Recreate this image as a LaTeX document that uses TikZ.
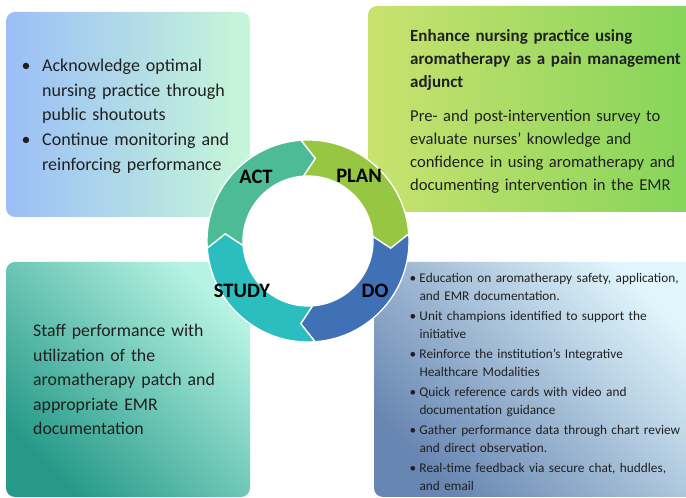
\documentclass[tikz,border=0pt]{standalone}
\usepackage{fontspec}
\setmainfont{Carlito}
\definecolor{textc}{RGB}{32,32,32}
\definecolor{actL}{RGB}{155,190,247}
\definecolor{actR}{RGB}{199,247,216}
\definecolor{planL}{RGB}{201,226,111}
\definecolor{planR}{RGB}{132,212,90}
\definecolor{studyBL}{RGB}{38,153,136}
\definecolor{studyTR}{RGB}{182,243,227}
\definecolor{doBL}{RGB}{104,134,178}
\definecolor{doTR}{RGB}{225,246,252}
\definecolor{actC}{RGB}{77,187,150}
\definecolor{planC}{RGB}{150,198,66}
\definecolor{doC}{RGB}{64,113,183}
\definecolor{studyC}{RGB}{44,190,190}
\newcommand\bitem[3]{\makebox[#1][l]{\textbullet}\parbox[t]{#2}{\strut #3\strut}\par}
\begin{document}
\begin{tikzpicture}[x=1pt,y=1pt,
  panel/.style={rounded corners=9pt},
  txt/.style={anchor=north west, inner sep=0pt, align=left, text=textc},
  seg/.style={draw=white, line width=1.3pt, line join=miter},
  lbl/.style={font=\fontsize{20.5}{24}\selectfont\bfseries, text=black, inner sep=0pt}]
\useasboundingbox (0,0) rectangle (686,498);
\clip (0,0) rectangle (686,498);
% panels
\shade[panel, left color=actL, right color=actR] (6,281) rectangle (250,486);
\shade[panel, left color=planL, right color=planR] (368,286) rectangle (700,492);
\shade[panel, top color=studyTR, bottom color=studyBL, shading angle=-45] (6,1) rectangle (250,236);
\shade[panel, top color=doTR, bottom color=doBL, shading angle=-45] (374,1) rectangle (700,236);
% texts
\node[txt, text width=228pt, font=\fontsize{18}{24.4}\selectfont] (acttext) at (21.5,443.6)
 {\setlength{\parindent}{0pt}\setlength{\parskip}{0pt}%
  \bitem{20.5pt}{200pt}{Acknowledge optimal\\nursing practice through\\public shoutouts}%
  \bitem{20.5pt}{200pt}{Continue monitoring and\\reinforcing performance}};
\node[txt, text width=276pt, font=\fontsize{17}{23}\selectfont\bfseries] (plantitle) at (410,472.4)
 {\strut Enhance nursing practice using\\aromatherapy as a pain management\\adjunct};
\node[txt, text width=276pt, font=\fontsize{16.6}{23}\selectfont] (plantext) at (410,392.4)
 {\strut Pre- and post-intervention survey to\\evaluate nurses’ knowledge and\\confidence in using aromatherapy and\\documenting intervention in the EMR};
\node[txt, text width=215pt, font=\fontsize{17.8}{24.5}\selectfont] (studytext) at (33,178.5)
 {\strut Staff performance with\\utilization of the\\aromatherapy patch and\\appropriate EMR\\documentation};
\node[txt, text width=280pt, font=\fontsize{13.3}{18.5}\selectfont] (dotext) at (409.3,229)
 {\setlength{\parindent}{0pt}\setlength{\parskip}{0pt}%
  \bitem{10pt}{268pt}{Education on aromatherapy safety, application,\\and EMR documentation.}%
  \bitem{10pt}{268pt}{Unit champions identified to support the\\initiative}%
  \bitem{10pt}{268pt}{Reinforce the institution’s Integrative\\Healthcare Modalities}%
  \bitem{10pt}{268pt}{Quick reference cards with video and\\documentation guidance}%
  \bitem{10pt}{268pt}{Gather performance data through chart review\\and direct observation.}%
  \bitem{10pt}{268pt}{Real-time feedback via secure chat, huddles,\\and email}};
% ring
\coordinate (C) at (308,257);
\begin{scope}[shift={(C)}]
 \filldraw[seg, fill=planC] (94:101) arc[start angle=94, end angle=4, radius=101] -- (-5:83) -- (4:65) arc[start angle=4, end angle=94, radius=65] -- (85:83) -- cycle;
 \filldraw[seg, fill=doC] (4:101) arc[start angle=4, end angle=-86, radius=101] -- (-95:83) -- (-86:65) arc[start angle=-86, end angle=4, radius=65] -- (-5:83) -- cycle;
 \filldraw[seg, fill=studyC] (-86:101) arc[start angle=-86, end angle=-176, radius=101] -- (-185:83) -- (-176:65) arc[start angle=-176, end angle=-86, radius=65] -- (-95:83) -- cycle;
 \filldraw[seg, fill=actC] (184:101) arc[start angle=184, end angle=94, radius=101] -- (85:83) -- (94:65) arc[start angle=94, end angle=184, radius=65] -- (175:83) -- cycle;
\end{scope}
% labels
\node[lbl] (act) at (256,321) {ACT};
\node[lbl] (plan) at (359,322) {PLAN};
\node[lbl] (study) at (242,207) {STUDY};
\node[lbl] (do) at (375,207) {DO};
\end{tikzpicture}
\end{document}
